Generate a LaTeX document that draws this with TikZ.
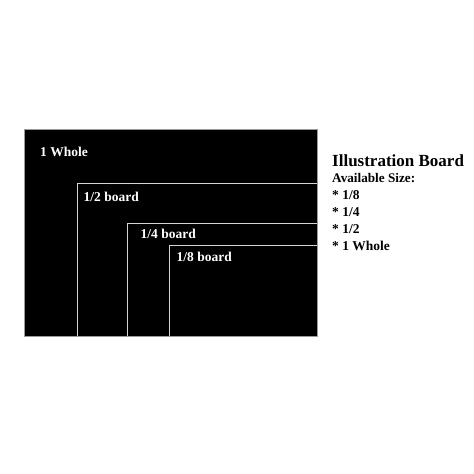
\documentclass[tikz,border=0pt]{standalone}
\usepackage{fontspec}
\setmainfont{Liberation Serif}
\usepackage{xcolor}
\usepackage{tikz}
\definecolor{boardline}{HTML}{D4D4D4}
\definecolor{boardedge}{HTML}{9A9A9A}

\begin{document}
\begin{tikzpicture}[
        x=1pt, y=-1pt,
        every node/.style={
            inner sep=0pt,
            anchor=base west,
            font=\fontsize{13.5}{16}\selectfont\bfseries
        },
        board/.style={
            draw=boardline,
            line width=0.9pt
        },
        label/.style={
            text=white
        },
        caption/.style={
            text=black
        }
    ]
        \useasboundingbox[fill=white] (0,0) rectangle (474,474);

        % the whole board and the smaller cuts
        \fill[black, draw=boardedge, line width=0.5pt] (24.5,129.5) rectangle (317.5,336);
        \draw[board] (77,336) |- (317,183.5);
        \draw[board] (127.5,336) |- (317,223.5);
        \draw[board] (169.5,336) |- (317,245);

        \node[label] (whole) at (40,156) {1 Whole};
        \node[label] (half) at (83.5,201.5) {1/2 board};
        \node[label] (quarter) at (140.5,238.5) {1/4 board};
        \node[label] (eighth) at (176.5,261) {1/8 board};

        % sizes list
        \node[caption, font=\fontsize{17}{20}\selectfont\bfseries] (title) at (332,166) {Illustration Board};
        \node[caption, font=\fontsize{13.2}{16}\selectfont\bfseries] (avail) at (332,182) {Available Size:};
        \node[caption] (s8) at (332,199) {* 1/8};
        \node[caption] (s4) at (332,216) {* 1/4};
        \node[caption] (s2) at (332,233) {* 1/2};
        \node[caption] (s1) at (332,250) {* 1 Whole};
    \end{tikzpicture}
\end{document}
